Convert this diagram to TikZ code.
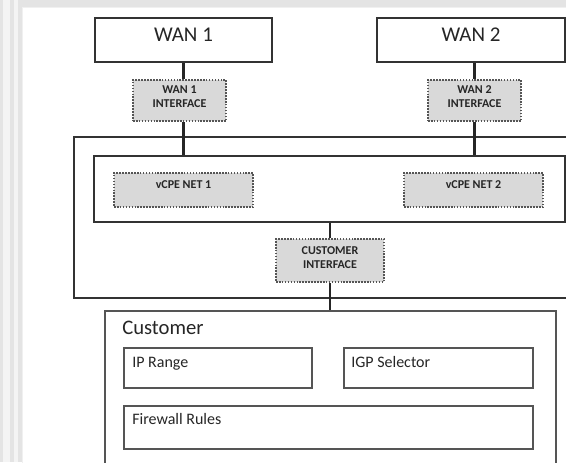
\documentclass[tikz,border=0pt]{standalone}
\usepackage{fontspec}
\setmainfont{Carlito}
\definecolor{edge}{HTML}{333333}
\definecolor{softedge}{HTML}{555555}
\definecolor{dotedge}{HTML}{555555}
\definecolor{ifill}{HTML}{D9D9D9}
\definecolor{ink}{HTML}{262626}
\definecolor{chrome}{HTML}{E4E4E4}
\definecolor{chromelight}{HTML}{F4F4F4}
\tikzset{
  mainbox/.style={draw=edge, line width=1.6pt, fill=white, inner sep=0pt},
  subbox/.style={draw=softedge, line width=1.5pt, inner sep=0pt},
  ifbox/.style={draw=dotedge, densely dotted, line width=1.2pt, fill=ifill, inner sep=0pt},
  bigtext/.style={font=\fontsize{15.75}{18}\selectfont, text=ink},
  tinytext/.style={font=\bfseries\fontsize{9}{10.5}\selectfont, text=ink, align=center},
  listtext/.style={font=\fontsize{12}{14}\selectfont, text=ink, inner sep=0pt, anchor=base west},
  link/.style={draw=ink, line width=1.6pt},
}
\begin{document}
\begin{tikzpicture}[x=0.75pt,y=-0.75pt]
\useasboundingbox (0,0) rectangle (566,462);
\clip (0,0) rectangle (566,462);
% window chrome and white page
\fill[chrome] (0,0) rectangle (566,462);
\fill[chromelight] (3,0) rectangle (10,462);
\fill[chromelight] (14,0) rectangle (18,462);
\fill[white] (22,7) rectangle (570,470);
\draw[chrome!80!black!20, line width=0.6pt] (22,470) -- (22,7) -- (570,7);

% outer vCPE frame and inner net box
\node[mainbox, minimum width=387pt, minimum height=120.75pt] (frame) at (332,217.5) {};
\node[mainbox, minimum width=353.25pt, minimum height=49.5pt] (inner) at (329.5,189) {};

% WAN boxes
\node[mainbox, minimum width=132.75pt, minimum height=33pt,
      label={[bigtext, yshift=3.75pt]center:WAN 1}] (wan1) at (183.5,40) {};
\node[mainbox, minimum width=141pt, minimum height=33pt,
      label={[bigtext, yshift=3.75pt]center:WAN 2}] (wan2) at (471,40) {};

% interfaces
\node[ifbox, minimum width=69.75pt, minimum height=30.75pt,
      label={[tinytext, yshift=2.6pt]center:WAN 1\\INTERFACE}] (if1) at (179.5,100.5) {};
\node[ifbox, minimum width=69.75pt, minimum height=30.75pt,
      label={[tinytext, yshift=2.6pt]center:WAN 2\\INTERFACE}] (if2) at (474.5,100.5) {};

% vCPE nets
\node[ifbox, minimum width=104.25pt, minimum height=25.5pt,
      label={[tinytext, yshift=3.75pt]center:vCPE NET 1}] (net1) at (183.5,190) {};
\node[ifbox, minimum width=104.25pt, minimum height=25.5pt,
      label={[tinytext, yshift=3.75pt]center:vCPE NET 2}] (net2) at (473.5,190) {};

% customer interface
\node[ifbox, minimum width=81pt, minimum height=32.25pt,
      label={[tinytext, yshift=1.9pt]center:CUSTOMER\\INTERFACE}] (custif) at (330,260.5) {};

% customer box
\node[subbox, minimum width=338.25pt, minimum height=123pt] (cust) at (330.5,393) {};
\node[listtext, font=\fontsize{15.5}{18}\selectfont] (custlabel)
      at ([xshift=13.5pt, yshift=-18pt]cust.north west) {Customer};
\node[subbox, minimum width=141pt, minimum height=30pt] (iprange) at (218,368) {};
\node[listtext] (iplabel) at ([xshift=6.75pt, yshift=-15pt]iprange.north west) {IP Range};
\node[subbox, minimum width=141.75pt, minimum height=30pt] (igp) at (438.5,368) {};
\node[listtext] (igplabel) at ([xshift=6pt, yshift=-15pt]igp.north west) {IGP Selector};
\node[subbox, minimum width=306.75pt, minimum height=32.25pt] (fw) at (328.5,427.5) {};
\node[listtext] (fwlabel) at ([xshift=6.75pt, yshift=-14.25pt]fw.north west) {Firewall Rules};

% connectors
\draw[link] (wan1.south) -- (wan1.south |- if1.north);
\draw[link] (wan1.south |- if1.south) -- (wan1.south |- inner.north);
\draw[link] (wan2.south -| if2.north) -- (if2.north);
\draw[link] (if2.south) -- (if2.south |- inner.north);
\draw[link] (inner.south -| custif.north) -- (custif.north);
\draw[link] (custif.south) -- (custif.south |- cust.north);
\end{tikzpicture}
\end{document}
